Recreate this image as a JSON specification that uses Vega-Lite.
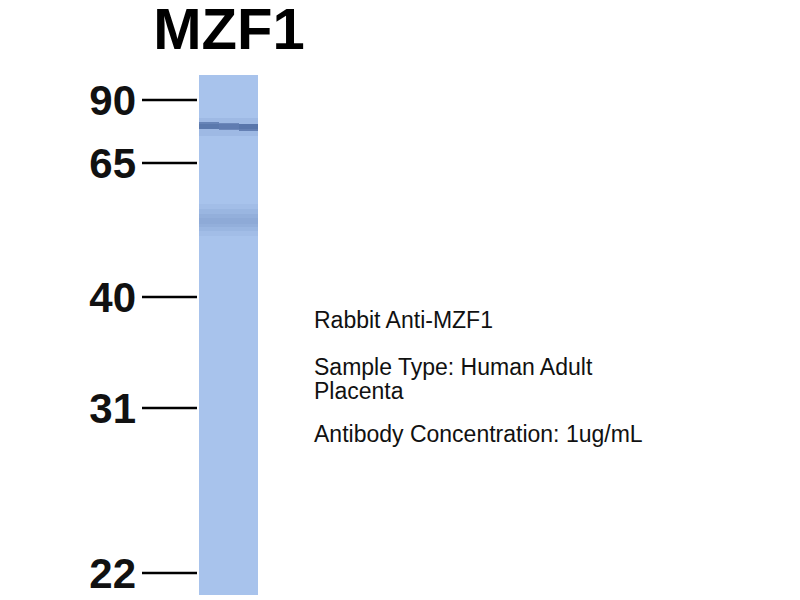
{
  "$schema": "https://vega.github.io/schema/vega-lite/v6.json",
  "description": "Western blot of MZF1, human adult placenta",
  "autosize": {"type": "fit", "contains": "padding"},
  "width": 800,
  "height": 600,
  "padding": 0,
  "background": "white",
  "config": {"view": {"stroke": null}},
  "datasets": {
    "lane": [{"x0": 19.9, "x1": 25.8, "top": 7.5, "bottom": 59.5}],
    "bands": [
      {"x0": 19.9, "x1": 25.8, "top": 11.8, "bottom": 13.6, "intensity": 0.07},
      {"x0": 19.9, "x1": 21.9, "top": 12.2, "bottom": 12.9, "intensity": 0.42},
      {"x0": 21.9, "x1": 23.9, "top": 12.3, "bottom": 13.0, "intensity": 0.38},
      {"x0": 23.9, "x1": 25.8, "top": 12.4, "bottom": 13.1, "intensity": 0.45},
      {"x0": 19.9, "x1": 25.8, "top": 12.4, "bottom": 12.9, "intensity": 0.15},
      {"x0": 19.9, "x1": 25.8, "top": 20.4, "bottom": 23.6, "intensity": 0.04},
      {"x0": 19.9, "x1": 25.8, "top": 20.9, "bottom": 23.1, "intensity": 0.05},
      {"x0": 19.9, "x1": 25.8, "top": 21.4, "bottom": 22.7, "intensity": 0.05},
      {"x0": 19.9, "x1": 25.8, "top": 21.8, "bottom": 22.4, "intensity": 0.04}
    ],
    "markers": [
      {"kDa": "90", "pos": 10.0},
      {"kDa": "65", "pos": 16.3},
      {"kDa": "40", "pos": 29.7},
      {"kDa": "31", "pos": 40.8},
      {"kDa": "22", "pos": 57.3}
    ],
    "heading": [{"label": "MZF1", "x": 22.9, "y": 4.9}],
    "notes": [
      {"line": "Rabbit Anti-MZF1", "x": 31.4, "y": 32.8},
      {"line": "Sample Type: Human Adult", "x": 31.4, "y": 37.5},
      {"line": "Placenta", "x": 31.4, "y": 39.9},
      {"line": "Antibody Concentration: 1ug/mL", "x": 31.4, "y": 44.2}
    ]
  },
  "layer": [
    {
      "data": {"name": "lane"},
      "mark": {"type": "rect", "fill": "#a8c3ec"},
      "encoding": {
        "x": {"field": "x0", "type": "quantitative", "scale": {"domain": [0, 80]}, "axis": null},
        "x2": {"field": "x1"},
        "y": {"field": "top", "type": "quantitative", "scale": {"domain": [0, 60], "reverse": true}, "axis": null},
        "y2": {"field": "bottom"}
      }
    },
    {
      "data": {"name": "bands"},
      "mark": {"type": "rect", "fill": "#1d3b7a"},
      "encoding": {
        "x": {"field": "x0", "type": "quantitative"},
        "x2": {"field": "x1"},
        "y": {"field": "top", "type": "quantitative"},
        "y2": {"field": "bottom"},
        "opacity": {"field": "intensity", "type": "quantitative", "scale": {"domain": [0, 1], "range": [0, 1]}, "legend": null}
      }
    },
    {
      "data": {"name": "markers"},
      "mark": {"type": "rule", "stroke": "black", "strokeWidth": 2.5},
      "encoding": {
        "x": {"datum": 14.2, "type": "quantitative"},
        "x2": {"datum": 19.7},
        "y": {"field": "pos", "type": "quantitative"}
      }
    },
    {
      "data": {"name": "markers"},
      "mark": {"type": "text", "font": "Liberation Sans", "fontWeight": "bold", "fontSize": 42, "align": "right", "baseline": "alphabetic", "dy": 15, "color": "#111"},
      "encoding": {
        "x": {"datum": 13.6, "type": "quantitative"},
        "y": {"field": "pos", "type": "quantitative"},
        "text": {"field": "kDa"}
      }
    },
    {
      "data": {"name": "heading"},
      "mark": {"type": "text", "font": "Liberation Sans", "fontWeight": "bold", "fontSize": 58, "align": "center", "baseline": "alphabetic", "color": "black"},
      "encoding": {
        "x": {"field": "x", "type": "quantitative"},
        "y": {"field": "y", "type": "quantitative"},
        "text": {"field": "label"}
      }
    },
    {
      "data": {"name": "notes"},
      "mark": {"type": "text", "font": "Liberation Sans", "fontSize": 23, "align": "left", "baseline": "alphabetic", "color": "#111"},
      "encoding": {
        "x": {"field": "x", "type": "quantitative"},
        "y": {"field": "y", "type": "quantitative"},
        "text": {"field": "line"}
      }
    }
  ]
}
